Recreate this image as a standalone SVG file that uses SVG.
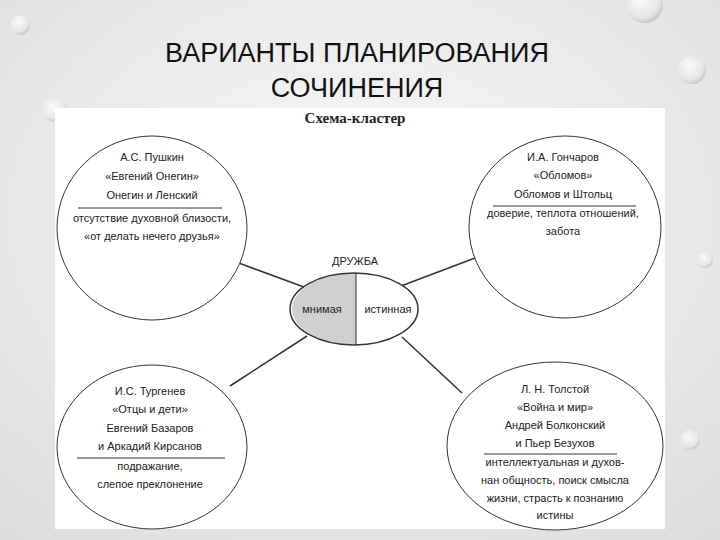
<svg xmlns="http://www.w3.org/2000/svg" width="720" height="540" viewBox="0 0 720 540">
<defs>
<radialGradient id="bg" cx="0.5" cy="0.4" r="0.8"><stop offset="0" stop-color="#fafafa"/><stop offset="1" stop-color="#dcdcdc"/></radialGradient>
<radialGradient id="drop" cx="0.4" cy="0.35" r="0.7"><stop offset="0" stop-color="#ffffff"/><stop offset="0.7" stop-color="#e8e8e8"/><stop offset="1" stop-color="#b8b8b8"/></radialGradient>
<style>
.t{font-family:"Liberation Sans",Arial,sans-serif;font-size:11px;fill:#222;text-anchor:middle}
.n{fill:#fff;stroke:#333;stroke-width:1}
.sep{stroke:#333;stroke-width:1}
.c{stroke:#333;stroke-width:1.5}
</style>
</defs>
<rect width="720" height="540" fill="url(#bg)"/>
<g opacity="0.8">
<circle cx="692" cy="70" r="14" fill="url(#drop)"/>
<circle cx="645" cy="5" r="18" fill="url(#drop)"/>
<circle cx="55" cy="110" r="12" fill="url(#drop)"/>
<circle cx="20" cy="25" r="10" fill="url(#drop)"/>
<circle cx="705" cy="260" r="8" fill="url(#drop)"/>
<circle cx="690" cy="440" r="10" fill="url(#drop)"/>
</g>
<text x="357" y="62" font-family="Liberation Sans,Arial,sans-serif" font-size="27" fill="#111" text-anchor="middle">ВАРИАНТЫ ПЛАНИРОВАНИЯ</text>
<text x="357" y="97" font-family="Liberation Sans,Arial,sans-serif" font-size="27" fill="#111" text-anchor="middle">СОЧИНЕНИЯ</text>
<rect x="55" y="108" width="610" height="421" fill="#fff"/>
<text x="355" y="123" font-family="Liberation Serif,serif" font-size="15" font-weight="bold" fill="#222" text-anchor="middle">Схема-кластер</text>
<g id="connectors">
<line class="c" x1="236" y1="262" x2="312" y2="290"/>
<line class="c" x1="475" y1="258" x2="401" y2="286"/>
<line class="c" x1="230" y1="386" x2="307" y2="336"/>
<line class="c" x1="462" y1="393" x2="402" y2="337"/>
</g>
<g id="center">
<ellipse cx="354" cy="309" rx="64" ry="36" fill="#fff"/>
<path d="M356 273 A64 36 0 0 0 356 345 Z" fill="#d0d0d0" stroke="none"/>
<ellipse cx="354" cy="309" rx="64" ry="36" fill="none" stroke="#333" stroke-width="1.5"/>
<line class="sep" x1="356" y1="273" x2="356" y2="345" stroke-width="1.5"/>
<text class="t" x="355" y="265">ДРУЖБА</text>
<text class="t" x="322" y="313">мнимая</text>
<text class="t" x="388" y="313">истинная</text>
</g>
<g id="pushkin">
<ellipse class="n" cx="152" cy="228" rx="95" ry="92"/>
<text class="t" x="152" y="161">А.С. Пушкин</text>
<text class="t" x="152" y="180">«Евгений Онегин»</text>
<text class="t" x="152" y="199">Онегин и Ленский</text>
<line class="sep" x1="78" y1="208" x2="222" y2="208"/>
<text class="t" x="152" y="222">отсутствие духовной близости,</text>
<text class="t" x="152" y="240">«от делать нечего друзья»</text>
</g>
<g id="goncharov">
<ellipse class="n" cx="565" cy="227" rx="96" ry="91"/>
<text class="t" x="563" y="161">И.А. Гончаров</text>
<text class="t" x="563" y="179">«Обломов»</text>
<text class="t" x="563" y="198">Обломов и Штольц</text>
<line class="sep" x1="493" y1="206" x2="636" y2="206"/>
<text class="t" x="563" y="217">доверие, теплота отношений,</text>
<text class="t" x="563" y="235">забота</text>
</g>
<g id="turgenev">
<ellipse class="n" cx="152" cy="447" rx="95" ry="82"/>
<text class="t" x="150" y="395">И.С. Тургенев</text>
<text class="t" x="150" y="413">«Отцы и дети»</text>
<text class="t" x="150" y="432">Евгений Базаров</text>
<text class="t" x="150" y="450">и Аркадий Кирсанов</text>
<line class="sep" x1="77" y1="458" x2="225" y2="458" stroke-width="1.5"/>
<text class="t" x="150" y="470">подражание,</text>
<text class="t" x="150" y="488">слепое преклонение</text>
</g>
<g id="tolstoy">
<ellipse class="n" cx="555" cy="446" rx="108" ry="84"/>
<text class="t" x="555" y="393">Л. Н. Толстой</text>
<text class="t" x="555" y="411">«Война и мир»</text>
<text class="t" x="555" y="429">Андрей Болконский</text>
<text class="t" x="555" y="447">и Пьер Безухов</text>
<line class="sep" x1="484" y1="454" x2="617" y2="454" stroke-width="1.5"/>
<text class="t" x="555" y="466">интеллектуальная и духов-</text>
<text class="t" x="555" y="484">нан общность, поиск смысла</text>
<text class="t" x="555" y="502">жизни, страсть к познанию</text>
<text class="t" x="555" y="519">истины</text>
</g>
</svg>
